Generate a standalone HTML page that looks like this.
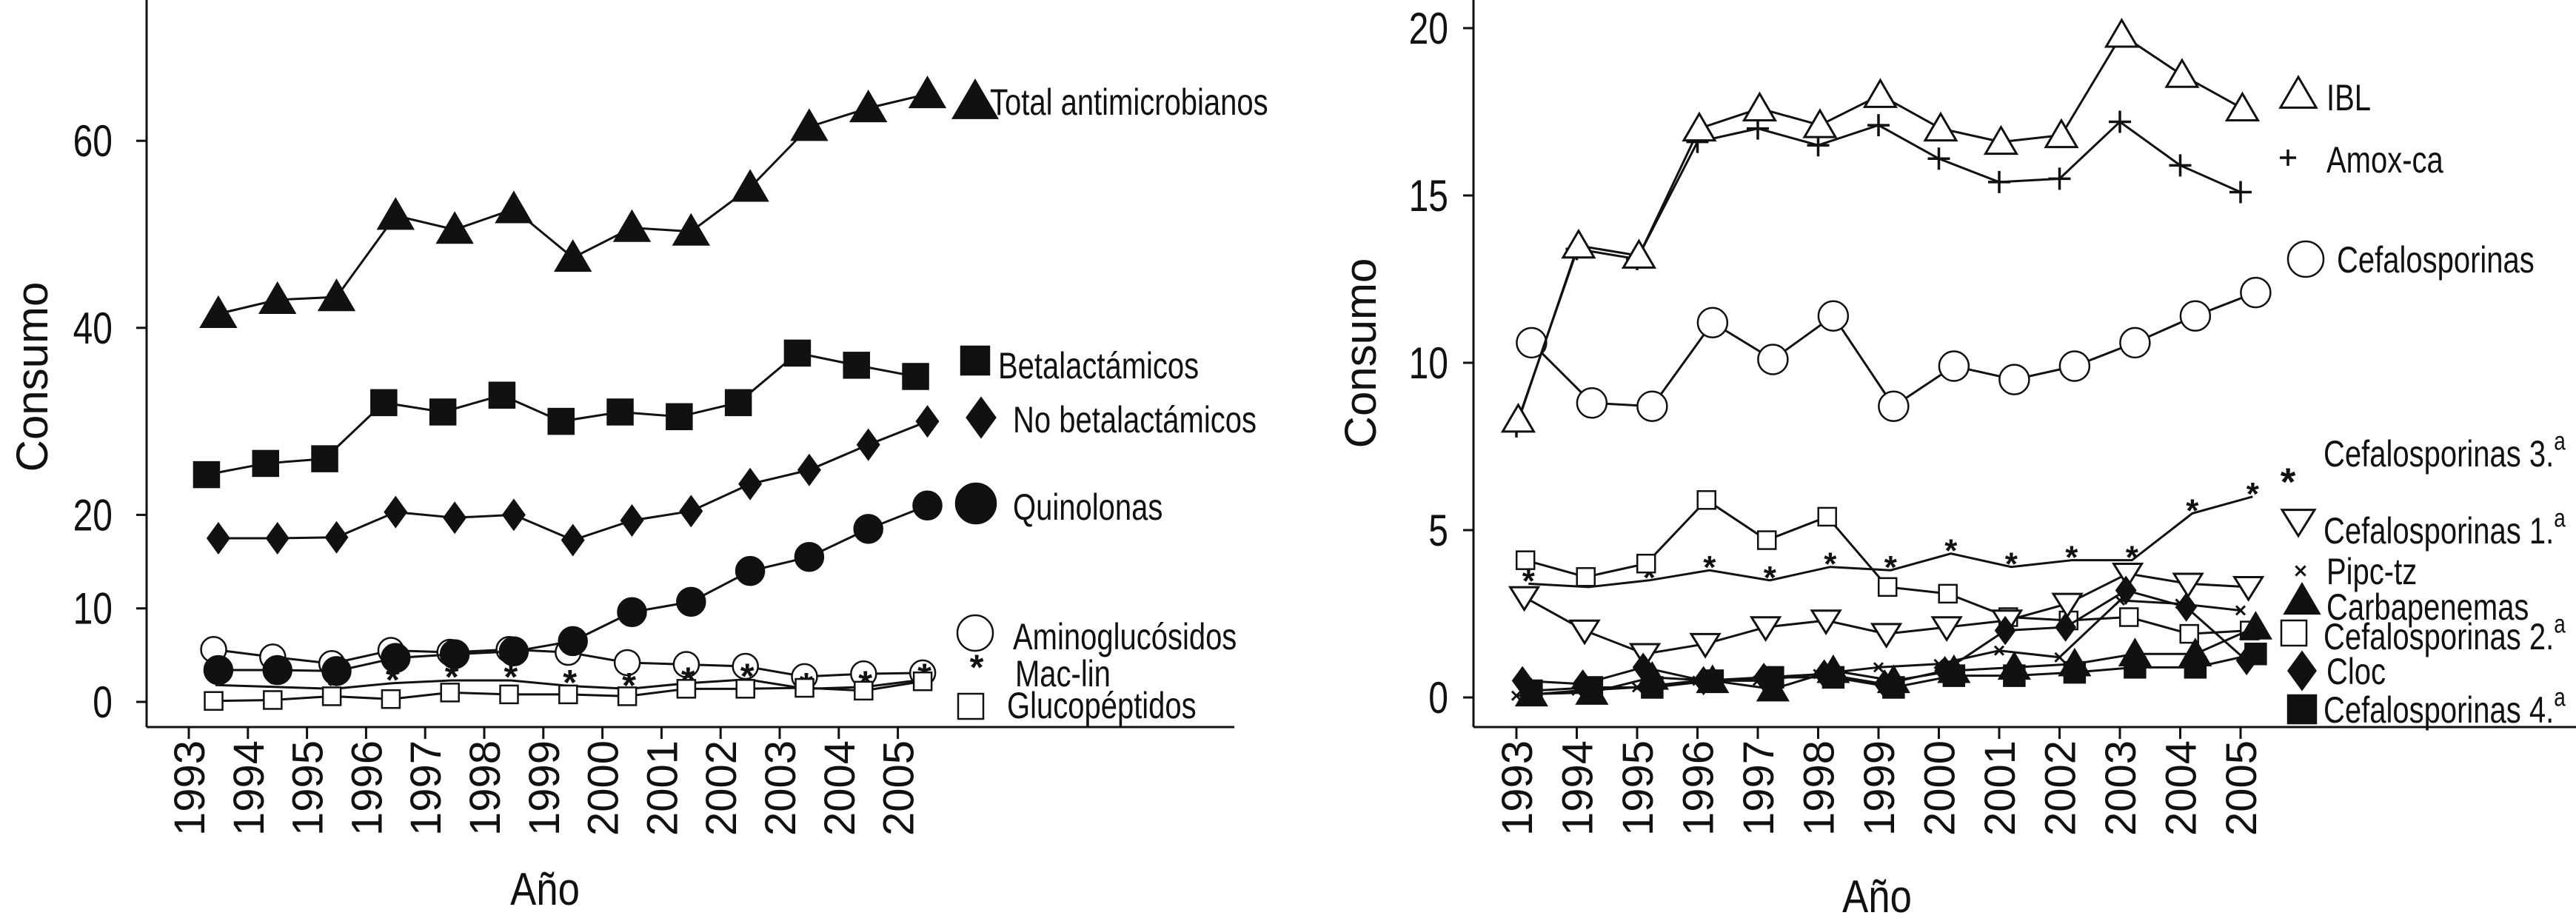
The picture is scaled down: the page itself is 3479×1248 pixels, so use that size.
<!DOCTYPE html>
<html><head><meta charset="utf-8"><style>
html,body{margin:0;padding:0;background:#fff;}
svg{display:block;}
text{font-family:"Liberation Sans",sans-serif;fill:#111;}
</style></head><body>
<svg id="c" width="3479" height="1248" viewBox="0 0 3479 1248" xmlns="http://www.w3.org/2000/svg"></svg>
<script>
// ---- data ----
const years = [1993,1994,1995,1996,1997,1998,1999,2000,2001,2002,2003,2004,2005];
const leftTicks = [0,10,20,40,60];
const rightTicks = [0,5,10,15,20];
const totalAnti = [41.5,43,43.3,52,50.5,52.7,47.5,50.7,50.3,55,61.5,63.5,65];
const betalact = [24.3,25.5,26,32,31,32.8,30,31,30.5,32,37.3,36,34.8];
const noBetalact = [17.5,17.5,17.6,20.3,19.7,20,17.3,19.4,20.4,23.3,24.8,27.5,30];
const quinolonas = [3.4,3.4,3.3,4.7,5.1,5.4,6.5,9.6,10.7,14,15.5,18.5,21];
const aminoglu = [5.6,4.8,4.1,5.5,5.3,5.6,5.3,4.2,4,3.8,2.7,3,3.1];
const macLin = [1.8,1.6,1.4,2,2.3,2.3,1.7,1.4,2,2.4,1.4,1.6,2.4];
const glucopep = [0.1,0.2,0.6,0.3,1,0.8,0.8,0.6,1.4,1.4,1.5,1.2,2.2];
const ibl = [8.3,13.5,13.2,17.0,17.6,17.1,18.0,17.0,16.6,16.8,19.8,18.6,17.6];
const amoxCa = [8.1,13.4,13.1,16.6,17.0,16.5,17.1,16.1,15.4,15.5,17.2,15.9,15.1];
const cefalo = [10.6,8.8,8.7,11.2,10.1,11.4,8.7,9.9,9.5,9.9,10.6,11.4,12.1];
const cef3 = [3.4,3.3,3.5,3.8,3.5,3.9,3.8,4.3,3.9,4.1,4.1,5.5,6.0];
const cef1 = [3.0,2.0,1.3,1.6,2.1,2.3,1.9,2.1,2.3,2.8,3.7,3.4,3.3];
const pipc = [0.05,0.2,0.3,0.5,0.5,0.7,0.9,1.0,1.4,1.2,2.9,2.8,2.6];
const carba = [0.1,0.15,0.6,0.5,0.25,0.8,0.5,0.8,0.9,1.0,1.3,1.3,2.1];
const cef2 = [4.1,3.6,4.0,5.9,4.7,5.4,3.3,3.1,2.4,2.3,2.4,1.9,2.0];
const cloc = [0.5,0.4,0.9,0.5,0.6,0.7,0.4,0.8,2.0,2.1,3.2,2.7,1.1];
const cef4 = [0.2,0.3,0.3,0.5,0.6,0.6,0.3,0.65,0.65,0.75,0.9,0.9,1.3];

const NS="http://www.w3.org/2000/svg";
const svg=document.getElementById('c');
function el(tag,attrs,parent){const e=document.createElementNS(NS,tag);for(const k in attrs)e.setAttribute(k,attrs[k]);(parent||svg).appendChild(e);return e;}

const L={x0:255,dx:79.8,y0:948,ky:12.63};
const R={x0:2048,dx:81.5,y0:942,ky:45.2};
const lx=(i,o)=>L.x0+L.dx*(i+o), ly=v=>L.y0-v*L.ky;
const rx=(i,o)=>R.x0+R.dx*(i+o), ry=v=>R.y0-v*R.ky;

function narrowText(parent,x,y,str,fs,anchor,sx){
  const g=el('g',{transform:`translate(${x},${y}) scale(${sx||0.8},1)`},parent);
  const t=el('text',{x:0,y:0,'font-size':fs,'text-anchor':anchor||'start'},g);
  t.textContent=str;
  return t;
}

function marker(g,type,x,y,s){
  const h=s/2;
  if(type==='triUp'||type==='triUpOpen'){el('polygon',{points:`${x},${y-h} ${x+h*1.05},${y+h*0.8} ${x-h*1.05},${y+h*0.8}`,fill:type==='triUp'?'#111':'#fff',stroke:'#111','stroke-width':3},g);}
  else if(type==='triDownOpen'){el('polygon',{points:`${x-h},${y-h*0.7} ${x+h},${y-h*0.7} ${x},${y+h*0.9}`,fill:'#fff',stroke:'#111','stroke-width':3},g);}
  else if(type==='sq'||type==='sqOpen'){el('rect',{x:x-h,y:y-h,width:s,height:s,fill:type==='sq'?'#111':'#fff',stroke:'#111','stroke-width':2.5},g);}
  else if(type==='dia'){el('polygon',{points:`${x},${y-h*1.1} ${x+h*0.8},${y} ${x},${y+h*1.1} ${x-h*0.8},${y}`,fill:'#111'},g);}
  else if(type==='circ'||type==='circOpen'){el('circle',{cx:x,cy:y,r:h,fill:type==='circ'?'#111':'#fff',stroke:'#111','stroke-width':2.5},g);}
  else if(type==='star'){const t=el('text',{x:x,y:y+h*1.1,'text-anchor':'middle','font-size':s*2.2,'font-weight':'bold'},g);t.textContent='*';}
  else if(type==='plus'){el('path',{d:`M${x-h} ${y}H${x+h}M${x} ${y-h}V${y+h}`,stroke:'#111','stroke-width':3.5},g);}
  else if(type==='cross'){el('path',{d:`M${x-h*0.6} ${y-h*0.6}L${x+h*0.6} ${y+h*0.6}M${x+h*0.6} ${y-h*0.6}L${x-h*0.6} ${y+h*0.6}`,stroke:'#111','stroke-width':3},g);}
}

function series(name,vals,fx,fy,off,type,size){
  const g=el('g',{});
  
  
  const pts=vals.map((v,i)=>[fx(i,off),fy(v)]);
  el('polyline',{points:pts.map(p=>p.join(',')).join(' '),fill:'none',stroke:'#111','stroke-width':3},g);
  pts.forEach(p=>marker(g,type,p[0],p[1],size));
}

function axes(prefix,ax,fx,fy,ticks,xEnd,consumoX,consumoY,anoX,anoY,labelRight){
  const g=el('g',{});
  
  
  const bottom=982;
  el('line',{x1:ax,y1:0,x2:ax,y2:bottom,stroke:'#111','stroke-width':3},g);
  el('line',{x1:ax,y1:bottom,x2:xEnd,y2:bottom,stroke:'#111','stroke-width':3},g);
  ticks.forEach(t=>{
    const y=fy(t);
    el('line',{x1:ax-14,y1:y,x2:ax,y2:y,stroke:'#111','stroke-width':3},g);
    narrowText(g,labelRight,y+21,String(t),60,'end',0.8);
  });
  years.forEach((yr,i)=>{
    const x=fx(i,0);
    el('line',{x1:x,y1:bottom,x2:x,y2:bottom+16,stroke:'#111','stroke-width':3},g);
    const tx=el('text',{x:0,y:0,'text-anchor':'end','font-size':58,transform:`translate(${x+21},${bottom+18}) rotate(-90)`},g);
    tx.textContent=yr;
  });
  const c=el('text',{x:0,y:0,'text-anchor':'middle','font-size':60,transform:`translate(${consumoX},${consumoY}) rotate(-90)`},g);
  c.textContent='Consumo';
  narrowText(g,anoX,anoY,'Año',62,'middle',0.85);
}

axes('left',198,lx,ly,leftTicks,1667,64,509,736,1222,152);
axes('right',1990,rx,ry,rightTicks,3479,1858,477,2535,1232,1956);

series('series-total-antimicrobianos',totalAnti,lx,ly,0.5,'triUp',44);
series('series-betalactamicos',betalact,lx,ly,0.3,'sq',34);
series('series-no-betalactamicos',noBetalact,lx,ly,0.5,'dia',40);
series('series-aminoglucosidos',aminoglu,lx,ly,0.42,'circOpen',34);
series('series-mac-lin',macLin,lx,ly,0.45,'star',22);
series('series-glucopeptidos',glucopep,lx,ly,0.42,'sqOpen',24);
series('series-quinolonas',quinolonas,lx,ly,0.5,'circ',38);

series('series-cefalosporinas',cefalo,rx,ry,0.25,'circOpen',40);
series('series-cef3',cef3,rx,ry,0.2,'star',20);
series('series-cef2',cef2,rx,ry,0.15,'sqOpen',24);
series('series-cef1',cef1,rx,ry,0.13,'triDownOpen',38);
series('series-cef4',cef4,rx,ry,0.25,'sq',28);
series('series-carbapenemas',carba,rx,ry,0.25,'triUp',38);
series('series-cloc',cloc,rx,ry,0.1,'dia',36);
series('series-pipc-tz',pipc,rx,ry,0,'cross',20);
series('series-amox-ca',amoxCa,rx,ry,0,'plus',30);
series('series-ibl',ibl,rx,ry,0.03,'triUpOpen',40);

function legend(name,type,mx,my,ms,label,tx,ty,fs,sup){
  const g=el('g',{});
  
  
  marker(g,type,mx,my,ms);
  const t=narrowText(g,tx,ty+fs*0.36,label,fs,'start',0.8);
  if(sup){const s=el('tspan',{dy:-fs*0.45,'font-size':fs*0.7},t);s.textContent='a';}
}
legend('legend-total','triUp',1317,137,56,'Total antimicrobianos',1337,137,50);
legend('legend-betalactamicos','sq',1317,487,38,'Betalactámicos',1348,493,50);
legend('legend-no-betalactamicos','dia',1325,564,52,'No betalactámicos',1368,566,50);
legend('legend-quinolonas','circ',1318,680,54,'Quinolonas',1368,684,50);
legend('legend-aminoglucosidos','circOpen',1317,855,48,'Aminoglucósidos',1368,859,50);
legend('legend-mac-lin','star',1319,906,22,'Mac-lin',1371,909,50);
legend('legend-glucopeptidos','sqOpen',1311,954,34,'Glucopéptidos',1360,952,50);

legend('legend-ibl','triUpOpen',3104,127,46,'IBL',3142,131,50);
legend('legend-amox-ca','plus',3090,213,22,'Amox-ca',3142,215,50);
legend('legend-cefalosporinas','circOpen',3114,350,48,'Cefalosporinas',3156,350,50);
legend('legend-cef3','star',3090,656,24,'Cefalosporinas 3.',3138,612,50,true);
legend('legend-cef1','triDownOpen',3104,704,44,'Cefalosporinas 1.',3138,716,50,true);
legend('legend-pipc-tz','cross',3107,771,22,'Pipc-tz',3142,771,50);
legend('legend-carbapenemas','triUp',3109,811,44,'Carbapenemas',3142,819,50);
legend('legend-cef2','sqOpen',3098,855,34,'Cefalosporinas 2.',3138,859,50,true);
legend('legend-cloc','dia',3109,906,50,'Cloc',3142,906,50);
legend('legend-cef4','sq',3109,958,38,'Cefalosporinas 4.',3138,958,50,true);
</script>
</body></html>
